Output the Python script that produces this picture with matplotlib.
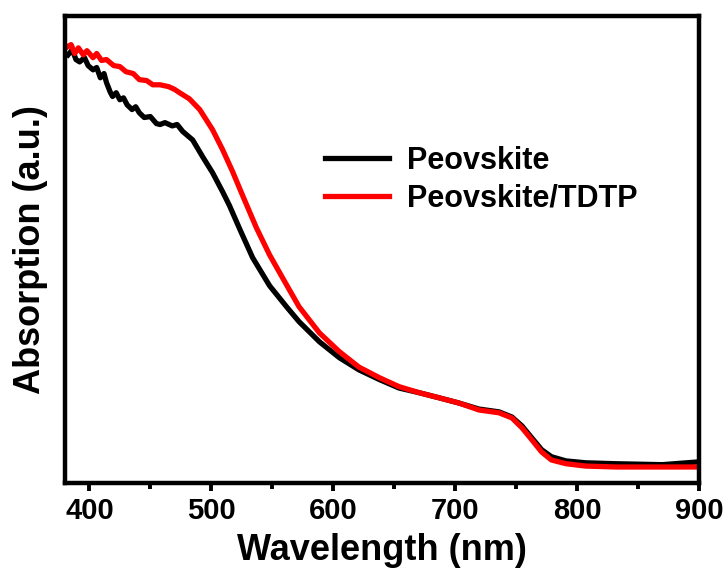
import numpy as np
import matplotlib
matplotlib.use('Agg')
import matplotlib.pyplot as plt
from matplotlib import font_manager
from matplotlib.ticker import MultipleLocator

# --- data (absorption in arbitrary units) ---
wl_pero = [382.5, 386, 389, 392, 396, 399, 403, 406, 409, 412, 414, 417, 419, 422,
           425, 428, 431, 435, 438, 441, 445, 450, 455, 458, 462, 468, 472, 476.6,
           484.7, 492.9, 501, 509.3, 515, 523.2, 533.9, 547.8, 561.7, 572, 588.7,
           605, 621, 638, 654, 670.5, 687, 703, 719.6, 736, 746.6, 754.8, 763, 771,
           779, 791, 807, 832, 870, 900]
abs_pero = [0.916, 0.927, 0.906, 0.901, 0.910, 0.893, 0.884, 0.889, 0.867, 0.876,
            0.857, 0.837, 0.827, 0.835, 0.820, 0.824, 0.809, 0.799, 0.805, 0.792,
            0.782, 0.784, 0.769, 0.767, 0.771, 0.764, 0.767, 0.752, 0.734, 0.698,
            0.664, 0.623, 0.593, 0.544, 0.482, 0.422, 0.377, 0.345, 0.302, 0.268,
            0.242, 0.221, 0.203, 0.193, 0.182, 0.171, 0.158, 0.152, 0.141, 0.122,
            0.096, 0.071, 0.056, 0.047, 0.043, 0.041, 0.039, 0.045]

wl_tdtp = [382.5, 385, 388, 391, 395, 398, 403, 406, 410, 414, 420, 425, 430, 436,
           441, 447, 452, 458, 465, 470, 474, 482, 490.5, 501, 509.3, 517.5, 525.7,
           537, 547.8, 561.7, 572, 588.7, 605, 621, 638, 654, 670.5, 687, 703,
           719.6, 736, 746.6, 754.8, 763, 771, 779, 791, 807, 832, 900]
abs_tdtp = [0.934, 0.938, 0.919, 0.931, 0.916, 0.925, 0.910, 0.919, 0.904, 0.906,
            0.893, 0.891, 0.880, 0.876, 0.863, 0.861, 0.852, 0.852, 0.848, 0.842,
            0.835, 0.822, 0.799, 0.756, 0.713, 0.666, 0.615, 0.546, 0.488, 0.424,
            0.377, 0.321, 0.281, 0.248, 0.225, 0.206, 0.193, 0.182, 0.171, 0.156,
            0.150, 0.139, 0.118, 0.092, 0.066, 0.049, 0.041, 0.036, 0.034, 0.034]

labels = ['Peovskite', 'Peovskite/TDTP']
colors = ['black', '#ff0000']

plt.rcParams['font.family'] = ['Liberation Sans', 'DejaVu Sans']
plt.rcParams['font.weight'] = 'bold'

# tick digits in the reference are a narrow face
names = {f.name for f in font_manager.fontManager.ttflist}
tick_family = 'Liberation Sans Narrow' if 'Liberation Sans Narrow' in names else 'Liberation Sans'
tick_size = 23 if tick_family == 'Liberation Sans Narrow' else 21

fig = plt.figure(figsize=(7.27, 5.79), dpi=100)
ax = fig.add_axes([0.0894, 0.166, 0.872, 0.807])

ax.plot(wl_pero, abs_pero, color=colors[0], lw=3.8, label=labels[0])
ax.plot(wl_tdtp, abs_tdtp, color=colors[1], lw=3.8, label=labels[1])

ax.set_xlim(380, 900)
ax.set_ylim(0, 1)
ax.set_yticks([])
ax.xaxis.set_major_locator(MultipleLocator(100))
ax.xaxis.set_minor_locator(MultipleLocator(50))
ax.tick_params(axis='x', which='major', direction='out', length=6, width=2.8, pad=4)
ax.tick_params(axis='x', which='minor', direction='out', length=4, width=2.8)
for t in ax.get_xticklabels():
    t.set_fontfamily(tick_family)
    t.set_fontsize(tick_size)
    t.set_fontweight('bold')

for s in ax.spines.values():
    s.set_linewidth(3.2)

ax.set_xlabel('Wavelength (nm)', fontsize=26, fontweight='bold', labelpad=6)
ax.set_ylabel('Absorption (a.u.)', fontsize=26, fontweight='bold', labelpad=12)

ax.legend(loc='center left', bbox_to_anchor=(0.366, 0.649), frameon=False,
          handlelength=2.1, handletextpad=0.6, labelspacing=0.25,
          prop={'weight': 'bold', 'size': 22})

fig.savefig('out.png', dpi=100, facecolor='white')
